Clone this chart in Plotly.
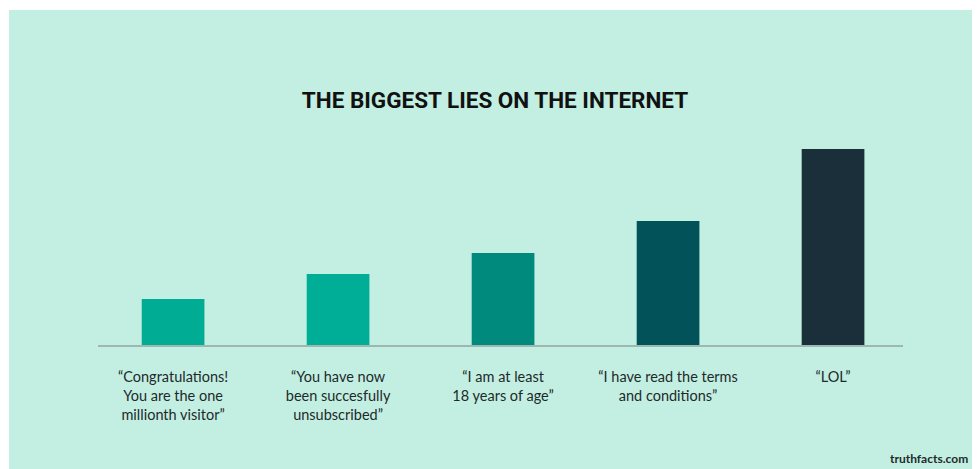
import plotly.graph_objects as go

categories = [
    "“Congratulations!<br>You are the one<br>millionth visitor”",
    "“You have now<br>been succesfully<br>unsubscribed”",
    "“I am at least<br>18 years of age”",
    "“I have read the terms<br>and conditions”",
    "“LOL”",
]
values = [46, 71, 92, 124, 196]
colors = ["#00AD94", "#00AD96", "#008A7D", "#025259", "#1A2F3A"]
title_text = "THE BIGGEST LIES ON THE INTERNET"
credit_text = "truthfacts.com"

BG = "#C2EFE2"

# page body adds an 8px offset; work in reference pixels and shift
OFF = 8
W, H = 980 - OFF, 469 - OFF
L, R, T, B = 98 - OFF, 77, 140 - OFF, 124
pw = W - L - R
ph = H - T - B


def px_x(px):
    return (px - OFF - L) / pw


def px_y(py):
    return (H - B - (py - OFF)) / ph


fig = go.Figure(
    go.Bar(
        x=list(range(len(categories))),
        y=values,
        marker=dict(color=colors, line=dict(width=0)),
        width=0.38,
        hoverinfo="skip",
    )
)

fig.update_layout(
    width=W,
    height=H,
    margin=dict(l=L, r=R, t=T, b=B, pad=0),
    paper_bgcolor=BG,
    plot_bgcolor=BG,
    showlegend=False,
    bargap=0.62,
    title=dict(
        text=title_text,
        x=(495 - OFF) / W,
        xref="container",
        xanchor="center",
        y=1 - (100 - OFF) / H,
        yref="container",
        yanchor="middle",
        font=dict(family="Roboto, sans-serif",
                  size=22.5, color="#111111", weight="bold"),
    ),
    xaxis=dict(
        tickmode="array",
        tickvals=list(range(len(categories))),
        ticktext=categories,
        range=[-0.455, 4.424],
        showgrid=False,
        zeroline=False,
        showline=True,
        linecolor="#9DB8B0",
        linewidth=2,
        ticks="",
        ticklabelstandoff=18,
        tickfont=dict(family="Lato", size=14.5, color="#1E2A2A"),
        fixedrange=True,
    ),
    yaxis=dict(
        range=[0, 205],
        visible=False,
        fixedrange=True,
    ),
    shapes=[
        dict(type="rect", xref="paper", yref="paper",
             x0=px_x(-20), x1=px_x(9), y0=px_y(H + 40), y1=px_y(-20),
             fillcolor="white", line=dict(width=0), layer="above"),
        dict(type="rect", xref="paper", yref="paper",
             x0=px_x(-20), x1=px_x(1000), y0=px_y(10), y1=px_y(-20),
             fillcolor="white", line=dict(width=0), layer="above"),
    ],
    annotations=[
        dict(
            text=credit_text,
            xref="paper", yref="paper",
            x=px_x(970), y=px_y(458),
            xanchor="right", yanchor="middle",
            showarrow=False,
            font=dict(family="Lato", size=12, color="#1E2A2A", weight="bold"),
        )
    ],
)

fig.write_html("out.html", config={"displayModeBar": False})
